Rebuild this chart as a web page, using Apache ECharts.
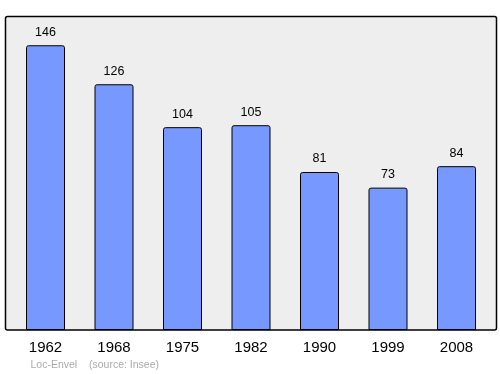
<!DOCTYPE html>
<html><head><meta charset="utf-8">
<script src="https://cdn.jsdelivr.net/npm/echarts@6/dist/echarts.min.js"></script>
<style>html,body{margin:0;padding:0;background:#fff}#c{width:500px;height:374px}</style>
</head><body><div id="c"></div>
<script>
var years = ['1962','1968','1975','1982','1990','1999','2008'];
var population = [146,126,104,105,81,73,84];
var footerName = 'Loc-Envel';
var footerSource = '(source: Insee)';

var chart = echarts.init(document.getElementById('c'), null, {renderer:'canvas'});
chart.setOption({
  animation:false,
  graphic:[
    {type:'rect', z:-10, shape:{x:5.5,y:16.5,width:491,height:313.5,r:2}, style:{fill:'#eeeeee',stroke:'#000',lineWidth:1.5}},
    {type:'text', left:30.5, top:360, style:{text:footerName, fill:'#aaaaaa', font:'10.5px "Liberation Sans", Arial, sans-serif'}},
    {type:'text', left:89, top:360, style:{text:footerSource, fill:'#aaaaaa', font:'10.5px "Liberation Sans", Arial, sans-serif'}}
  ],
  grid:{left:11.25, right:9.25, top:16, bottom:44},
  xAxis:{type:'category', data:years, axisLine:{show:false}, axisTick:{show:false},
    axisLabel:{color:'#000', fontSize:15, fontFamily:'Liberation Sans', margin:10}},
  yAxis:{type:'value', min:0, max:161, show:false, splitLine:{show:false}},
  series:[{type:'bar', data:population, barWidth:39,
    itemStyle:{color:'#7799ff', borderColor:'#000', borderWidth:1, borderRadius:[2,2,0,0]},
    label:{show:true, position:'top', distance:6.5, color:'#000', fontSize:12.5, fontFamily:'Liberation Sans'}}]
});
</script></body></html>
